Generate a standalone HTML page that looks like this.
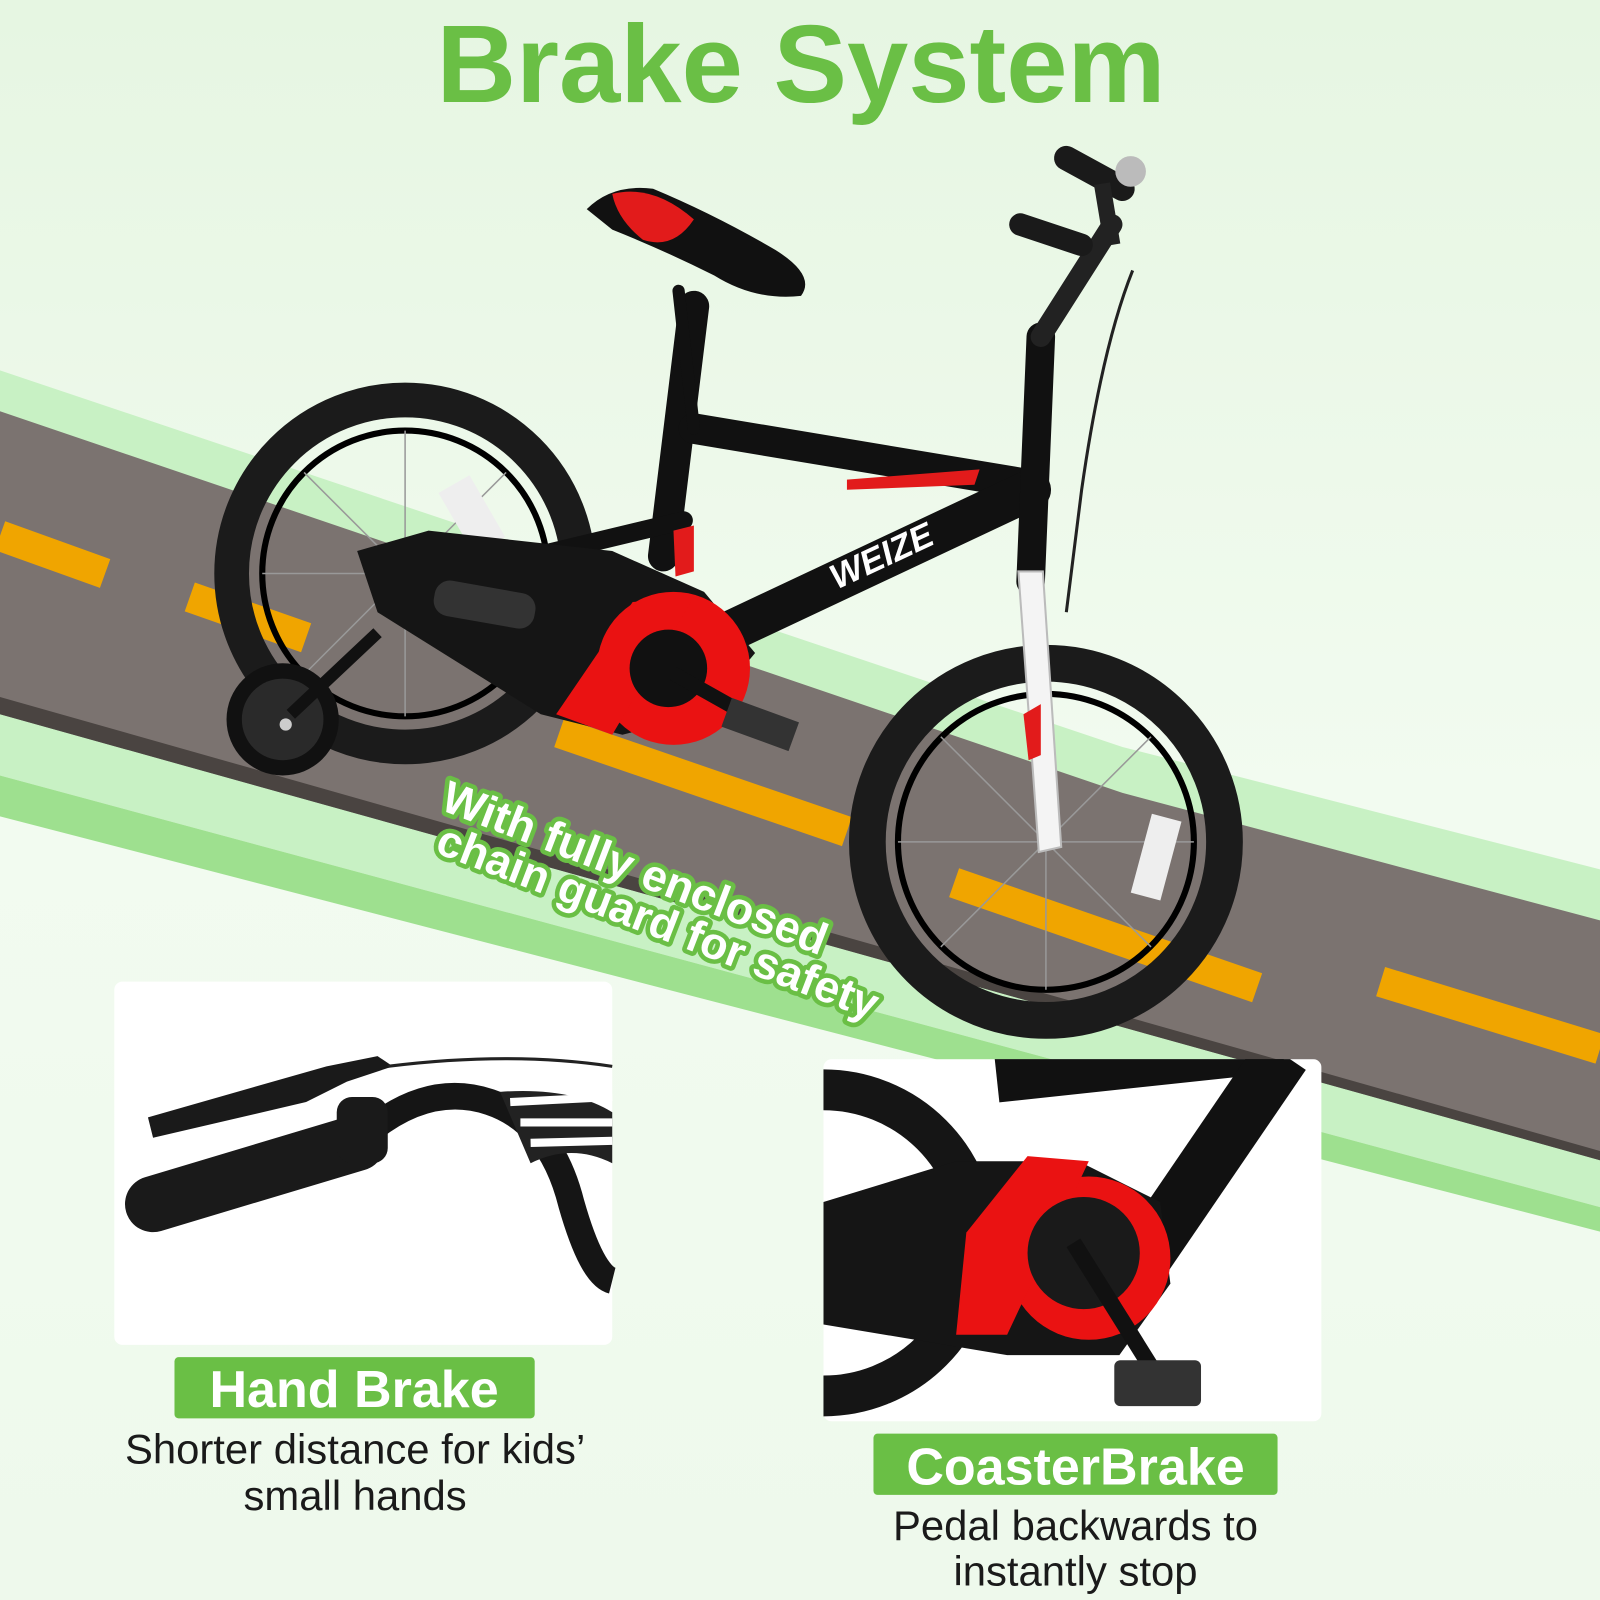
<!DOCTYPE html>
<html><head><meta charset="utf-8"><style>
html,body{margin:0;padding:0;width:1600px;height:1600px;overflow:hidden;background:#eef9ec}
svg{display:block}
</style></head><body>
<svg width="1600" height="1600" viewBox="0 0 1568 1568" xmlns="http://www.w3.org/2000/svg">
<defs>
<linearGradient id="bg" x1="0" y1="0" x2="0" y2="1">
<stop offset="0" stop-color="#e6f6e2"/><stop offset="0.5" stop-color="#f2fbf0"/><stop offset="1" stop-color="#eef9ec"/>
</linearGradient>
</defs>
<rect width="1568" height="1568" fill="url(#bg)"/>
<polygon points="0,363 1100,732 1568,852 1568,1183 0,760" fill="#c8f1c4"/>
<polygon points="0,760 1568,1183 1568,1207 0,800" fill="#9ee08f"/>
<polygon points="0,403 1100,777 1568,902 1568,1137 0,700" fill="#7b7370"/>
<polygon points="0,683 1568,1128 1568,1137 0,700" fill="#4a4441"/>
<g stroke="#f0a500" stroke-width="30">
<line x1="0" y1="525" x2="103" y2="562"/>
<line x1="186" y1="585" x2="300" y2="625"/>
<line x1="548" y1="718" x2="830" y2="815"/>
<line x1="935" y1="865" x2="1232" y2="968"/>
<line x1="1353" y1="962" x2="1568" y2="1028"/>
</g>
<text x="785" y="100" text-anchor="middle" font-family="Liberation Sans, sans-serif" font-weight="bold" font-size="108" fill="#6abf45">Brake System</text>

<g>
<circle cx="397" cy="562" r="170" fill="none" stroke="#1b1b1b" stroke-width="34"/>
<circle cx="397" cy="562" r="140" fill="none" stroke="#000" stroke-width="6"/>
<g stroke="#999" stroke-width="1.5">
<line x1="397" y1="422" x2="397" y2="702"/><line x1="257" y1="562" x2="537" y2="562"/>
<line x1="298" y1="463" x2="496" y2="661"/><line x1="496" y1="463" x2="298" y2="661"/>
</g>
<rect x="445" y="470" width="35" height="70" fill="#eee" transform="rotate(-30 462 505)"/>
<circle cx="1025" cy="825" r="175" fill="none" stroke="#1b1b1b" stroke-width="36"/>
<circle cx="1025" cy="825" r="145" fill="none" stroke="#000" stroke-width="6"/>
<g stroke="#999" stroke-width="1.5">
<line x1="1025" y1="680" x2="1025" y2="970"/><line x1="880" y1="825" x2="1170" y2="825"/>
<line x1="922" y1="722" x2="1128" y2="928"/><line x1="1128" y1="722" x2="922" y2="928"/>
</g>
<rect x="1118" y="800" width="30" height="80" fill="#eee" transform="rotate(15 1133 840)"/>
<circle cx="277" cy="705" r="55" fill="#111"/>
<circle cx="277" cy="705" r="40" fill="#2a2a2a"/>
<circle cx="280" cy="710" r="6" fill="#ccc"/>
<line x1="285" y1="700" x2="370" y2="620" stroke="#111" stroke-width="12"/>
<g stroke="#111" stroke-linecap="round" fill="none">
<line x1="680" y1="300" x2="650" y2="545" stroke-width="30"/>
<line x1="680" y1="420" x2="1010" y2="475" stroke-width="30"/>
<line x1="670" y1="640" x2="1010" y2="480" stroke-width="40"/>
<line x1="420" y1="570" x2="670" y2="510" stroke-width="18"/>
<line x1="1020" y1="330" x2="1010" y2="570" stroke-width="28"/>
<line x1="665" y1="285" x2="680" y2="420" stroke-width="12"/>
</g>
<polygon points="998,560 1022,560 1040,830 1018,835" fill="#f4f4f4" stroke="#bbb" stroke-width="2"/>
<polygon points="1003,700 1020,690 1020,740 1008,745" fill="#e21b1b"/>
<polygon points="350,540 420,520 600,540 690,580 740,640 690,700 610,720 530,700 370,600" fill="#151515"/>
<circle cx="660" cy="655" r="75" fill="#ea1212"/>
<polygon points="545,700 620,590 680,585 600,720" fill="#ea1212"/>
<circle cx="655" cy="655" r="38" fill="#111"/>
<rect x="425" y="575" width="100" height="35" rx="15" fill="#333" transform="rotate(10 475 592)"/>
<line x1="660" y1="660" x2="740" y2="705" stroke="#111" stroke-width="14"/>
<rect x="710" y="695" width="70" height="30" fill="#333" transform="rotate(20 745 710)"/>
<polygon points="660,520 680,515 680,560 662,565" fill="#e21b1b"/>
<polygon points="830,470 960,460 955,475 830,480" fill="#e21b1b"/>
<text x="820" y="578" font-family="Liberation Sans, sans-serif" font-weight="bold" font-style="italic" font-size="34" fill="#fff" transform="rotate(-25 820 578)">WEIZE</text>
<path d="M575,205 Q600,180 640,185 Q700,210 760,245 Q800,270 785,290 Q740,295 700,270 Q650,245 600,225 Z" fill="#111"/>
<path d="M600,190 Q640,180 680,215 Q660,245 630,235 Q605,215 600,190 Z" fill="#e21b1b"/>
<line x1="1020" y1="330" x2="1090" y2="220" stroke="#222" stroke-width="20" stroke-linecap="round"/>
<line x1="1000" y1="220" x2="1060" y2="240" stroke="#1a1a1a" stroke-width="22" stroke-linecap="round"/>
<line x1="1045" y1="155" x2="1100" y2="185" stroke="#1a1a1a" stroke-width="24" stroke-linecap="round"/>
<line x1="1080" y1="180" x2="1090" y2="240" stroke="#222" stroke-width="16"/>
<circle cx="1108" cy="168" r="15" fill="#bbb"/>
<path d="M1110,265 Q1080,340 1060,480 L1045,600" stroke="#222" stroke-width="3" fill="none"/>
</g>

<g font-family="Liberation Sans, sans-serif" font-weight="bold" font-size="44" fill="#fff" stroke="#6abf45" stroke-width="9" paint-order="stroke" stroke-linejoin="round">
<text x="430" y="793" transform="rotate(21 430 793)">With fully enclosed</text>
<text x="425" y="835" transform="rotate(21 425 835)">chain guard for safety</text>
</g>

<rect x="112" y="962" width="488" height="356" rx="8" fill="#fff"/>
<g>
<path d="M360,1110 Q420,1060 480,1080 Q540,1100 560,1180 Q580,1250 600,1255" stroke="#151515" stroke-width="26" fill="none"/>
<path d="M490,1070 Q560,1065 600,1090 L600,1140 Q560,1120 520,1140 Z" fill="#222"/>
<path d="M500,1080 L600,1075 M510,1100 L600,1100 M520,1120 L600,1118" stroke="#fff" stroke-width="8"/>
<line x1="150" y1="1180" x2="350" y2="1120" stroke="#1a1a1a" stroke-width="55" stroke-linecap="round"/>
<rect x="330" y="1075" width="50" height="65" rx="15" fill="#1a1a1a"/>
<path d="M145,1095 L150,1115 L300,1080 L340,1060 L385,1045 L370,1035 L320,1045 Z" fill="#1a1a1a"/>
<path d="M380,1045 Q500,1030 600,1045" stroke="#222" stroke-width="3" fill="none"/>
</g>
<rect x="171" y="1330" width="353" height="60" rx="4" fill="#6abf45"/>
<text x="347" y="1379" text-anchor="middle" font-family="Liberation Sans, sans-serif" font-weight="bold" font-size="51" fill="#fff">Hand Brake</text>
<g font-family="Liberation Sans, sans-serif" font-size="41" fill="#1a1a1a" text-anchor="middle">
<text x="348" y="1434">Shorter distance for kids’</text>
<text x="348" y="1480">small hands</text>
</g>

<svg x="807" y="1038" width="488" height="355" viewBox="0 0 488 355">
<rect width="488" height="355" rx="8" fill="#fff"/>
<circle cx="0" cy="180" r="150" fill="none" stroke="#151515" stroke-width="40"/>
<line x1="170" y1="20" x2="450" y2="-10" stroke="#111" stroke-width="45"/>
<line x1="310" y1="200" x2="450" y2="-5" stroke="#111" stroke-width="55"/>
<polygon points="0,140 130,100 250,100 330,140 340,220 290,290 180,290 0,260" fill="#151515"/>
<circle cx="260" cy="195" r="80" fill="#ea1212"/>
<polygon points="140,170 200,95 260,100 180,270 130,270" fill="#ea1212"/>
<circle cx="255" cy="190" r="55" fill="#1a1a1a"/>
<line x1="245" y1="180" x2="320" y2="300" stroke="#111" stroke-width="16"/>
<rect x="285" y="295" width="85" height="45" rx="6" fill="#333"/>
</svg>
<rect x="856" y="1405" width="396" height="60" rx="4" fill="#6abf45"/>
<text x="1054" y="1455" text-anchor="middle" font-family="Liberation Sans, sans-serif" font-weight="bold" font-size="51" fill="#fff">CoasterBrake</text>
<g font-family="Liberation Sans, sans-serif" font-size="41" fill="#1a1a1a" text-anchor="middle">
<text x="1054" y="1509">Pedal backwards to</text>
<text x="1054" y="1554">instantly stop</text>
</g>
</svg>
</body></html>
